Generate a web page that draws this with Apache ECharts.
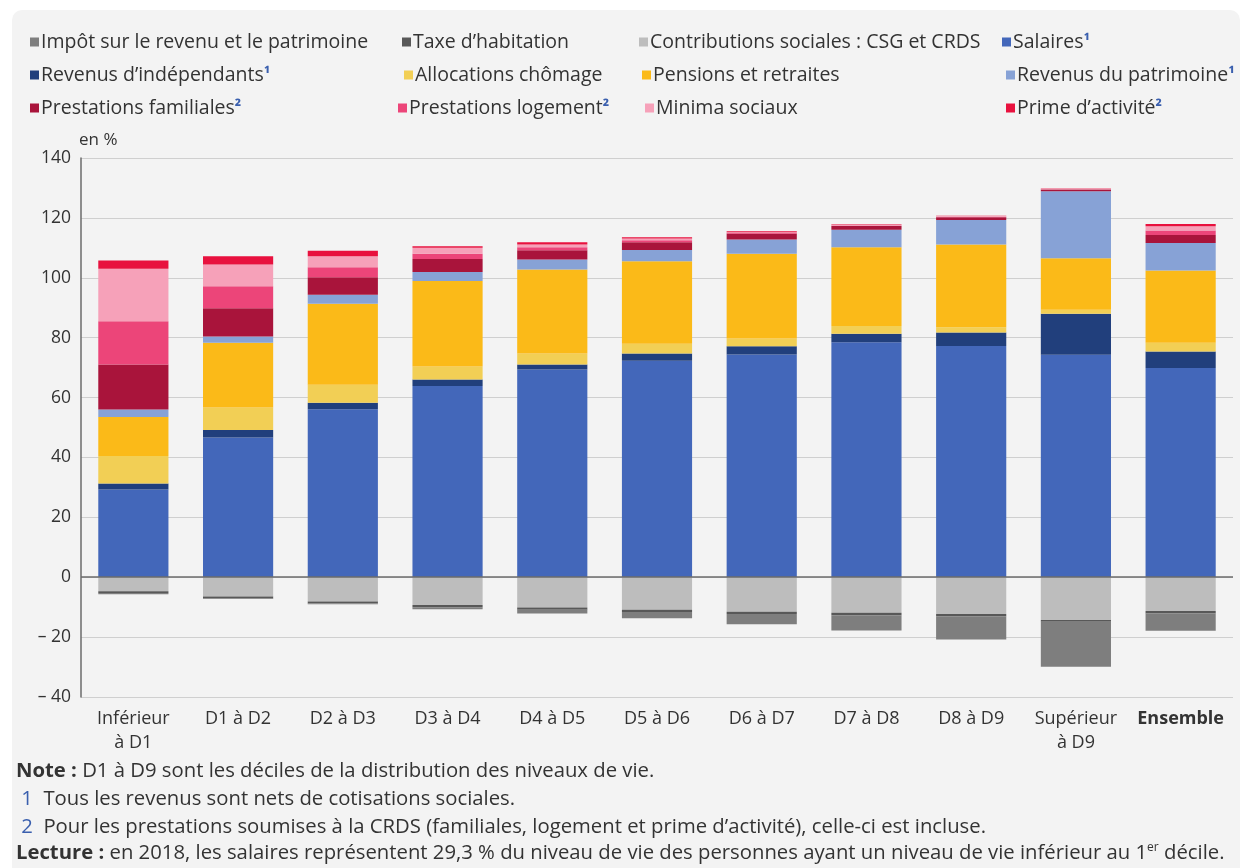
<!DOCTYPE html>
<html>
<head>
<meta charset="utf-8">
<script src="https://cdn.jsdelivr.net/npm/echarts@6/dist/echarts.min.js"></script>
<style>
html,body{margin:0;padding:0;background:#fff;}
#chart{width:1244px;height:868px;}
</style>
</head>
<body>
<div id="chart"></div>
<script>
// ---- Data ----
const categories = ['Inférieur\nà D1', 'D1 à D2', 'D2 à D3', 'D3 à D4', 'D4 à D5', 'D5 à D6', 'D6 à D7', 'D7 à D8', 'D8 à D9', 'Supérieur\nà D9', 'Ensemble'];
const yTicks = [-40, -20, 0, 20, 40, 60, 80, 100, 120, 140];

const salaires    = [29.3, 46.7, 56.1, 63.9, 69.4, 72.3, 74.4, 78.5, 77.2, 74.3, 69.9];
const independants= [2.0, 2.5, 2.2, 2.1, 1.6, 2.4, 2.7, 2.8, 4.5, 13.7, 5.5];
const chomage     = [9.2, 7.5, 6.0, 4.4, 3.7, 3.3, 2.6, 2.6, 1.8, 1.3, 2.9];
const pensions    = [13.0, 21.6, 27.0, 28.5, 28.1, 27.5, 28.3, 26.3, 27.6, 17.2, 24.1];
const patrimoine  = [2.5, 2.1, 3.0, 3.0, 3.3, 3.8, 4.8, 5.8, 8.2, 22.4, 9.2];
const familiales  = [15.0, 9.4, 5.9, 4.4, 3.1, 2.6, 1.9, 1.3, 0.9, 0.6, 2.7];
const logement    = [14.5, 7.4, 3.3, 1.7, 1.0, 0.6, 0.3, 0.2, 0.2, 0.1, 1.5];
const minima      = [17.5, 7.2, 3.7, 2.0, 0.9, 0.6, 0.2, 0.2, 0.2, 0.2, 1.4];
const prime       = [2.8, 2.8, 1.8, 0.5, 0.8, 0.4, 0.3, 0.2, 0.1, 0.1, 0.8];
const csg         = [-4.7, -6.4, -8.1, -9.3, -10.1, -10.9, -11.5, -11.9, -12.3, -14.3, -11.3];
const taxeHab     = [-0.6, -0.6, -0.6, -0.7, -0.8, -0.7, -0.8, -0.8, -0.7, -0.6, -0.8];
const impot       = [-0.4, -0.3, -0.3, -0.7, -1.2, -2.1, -3.4, -5.1, -7.8, -15.0, -5.8];

// series names (legend order) and footnote marks
const legendNames = [
  'Impôt sur le revenu et le patrimoine', 'Taxe d’habitation', 'Contributions sociales : CSG et CRDS', 'Salaires',
  'Revenus d’indépendants', 'Allocations chômage', 'Pensions et retraites', 'Revenus du patrimoine',
  'Prestations familiales', 'Prestations logement', 'Minima sociaux', 'Prime d’activité'
];
const legendMarks = ['', '', '', '¹', '¹', '', '', '¹', '²', '²', '', '²'];

// ---- Styles ----
const colors = {
  'Impôt sur le revenu et le patrimoine': '#7e7e7e',
  'Taxe d’habitation': '#585858',
  'Contributions sociales : CSG et CRDS': '#bdbdbd',
  'Salaires': '#4367ba',
  'Revenus d’indépendants': '#213f7c',
  'Allocations chômage': '#f2cf55',
  'Pensions et retraites': '#fbba18',
  'Revenus du patrimoine': '#87a2d6',
  'Prestations familiales': '#a9143b',
  'Prestations logement': '#ec4579',
  'Minima sociaux': '#f6a1b9',
  'Prime d’activité': '#e8113e'
};
const legendPos = [
  [30, 32], [402, 32], [639, 32], [1002, 32],
  [30, 65], [404, 65], [642, 65], [1006, 65],
  [30, 98], [398, 98], [645, 98], [1006, 98]
];

const stackOrder = [
  ['Salaires', salaires], ['Revenus d’indépendants', independants], ['Allocations chômage', chomage],
  ['Pensions et retraites', pensions], ['Revenus du patrimoine', patrimoine], ['Prestations familiales', familiales],
  ['Prestations logement', logement], ['Minima sociaux', minima], ['Prime d’activité', prime],
  ['Contributions sociales : CSG et CRDS', csg], ['Taxe d’habitation', taxeHab], ['Impôt sur le revenu et le patrimoine', impot]
];

const FONT = '"Open Sans", "Noto Sans", sans-serif';
const TXT = '#333333';
const NOTE_SIZE = 20.3;

const series = stackOrder.map(([name, data], i) => {
  const s = {
    name, type: 'bar', stack: 'total', data,
    barCategoryGap: '33%',
    itemStyle: { color: colors[name] },
    emphasis: { disabled: true },
    silent: true
  };
  if (i === 0) {
    s.markLine = {
      silent: true, symbol: 'none', animation: false,
      label: { show: false },
      lineStyle: { color: '#6b6b6b', width: 1.5, type: 'solid' },
      data: [{ yAxis: 0 }]
    };
  }
  return s;
});

const legends = legendNames.map((name, i) => ({
  data: [name],
  left: legendPos[i][0], top: legendPos[i][1],
  padding: 0, itemGap: 0, itemWidth: 9, itemHeight: 9, icon: 'rect',
  selectedMode: false,
  formatter: n => legendMarks[i] ? n + '{sup|' + legendMarks[i] + '}' : n,
  textStyle: {
    fontFamily: FONT, fontSize: 19.5, color: TXT, padding: [0, 0, 0, -3],
    rich: { sup: { fontFamily: FONT, fontSize: 17, color: '#3a5fae', fontWeight: 'bold' } }
  }
}));

function noteText(y, text, rich) {
  return {
    type: 'text', x: 16, y, silent: true,
    style: {
      text, font: NOTE_SIZE + 'px ' + FONT, fill: TXT, verticalAlign: 'middle',
      rich: Object.assign({
        b: { fontWeight: 'bold', fontSize: NOTE_SIZE, fontFamily: FONT, fill: TXT },
        n: { fontSize: NOTE_SIZE, fontFamily: FONT, fill: '#3a5fae' },
        s: { fontSize: 12, fontFamily: FONT, fill: TXT, padding: [0, 0, 10, 0] }
      }, rich || {})
    }
  };
}

const chart = echarts.init(document.getElementById('chart'), null, { renderer: 'canvas' });
chart.setOption({
  backgroundColor: '#ffffff',
  animation: false,
  textStyle: { fontFamily: FONT },
  graphic: [
    { type: 'rect', z: -10, silent: true, shape: { x: 12, y: 10, width: 1228, height: 880, r: 10 }, style: { fill: '#f3f3f3' } },
    noteText(771, '{b|Note :} D1 à D9 sont les déciles de la distribution des niveaux de vie.'),
    noteText(799, ' {n|1}  Tous les revenus sont nets de cotisations sociales.'),
    noteText(827, ' {n|2}  Pour les prestations soumises à la CRDS (familiales, logement et prime d’activité), celle-ci est incluse.'),
    noteText(853, '{b|Lecture :} en 2018, les salaires représentent 29,3 % du niveau de vie des personnes ayant un niveau de vie inférieur au 1{s|er} décile.')
  ],
  legend: legends,
  grid: { left: 81, right: 11, top: 158, bottom: 171, containLabel: false },
  xAxis: {
    type: 'category', data: categories,
    axisLine: { show: false }, axisTick: { show: false },
    axisLabel: {
      fontFamily: FONT, fontSize: 18, color: TXT, margin: 10, lineHeight: 24, interval: 0,
      formatter: v => v === 'Ensemble' ? '{b|' + v + '}' : v,
      rich: { b: { fontWeight: 'bold', fontSize: 18, fontFamily: FONT, color: TXT } }
    }
  },
  yAxis: {
    type: 'value', min: yTicks[0], max: yTicks[yTicks.length - 1], interval: 20,
    name: 'en %', nameLocation: 'end', nameGap: 9,
    nameTextStyle: { fontFamily: FONT, fontSize: 17, color: TXT, align: 'left', verticalAlign: 'bottom', padding: [0, 0, 0, -2] },
    axisLine: { show: true, lineStyle: { color: '#6b6b6b', width: 1.5 } },
    axisTick: { show: false },
    splitLine: { show: true, lineStyle: { color: '#cfcfcf', width: 1 } },
    axisLabel: {
      fontFamily: FONT, fontSize: 17.5, color: TXT, margin: 10,
      formatter: v => v < 0 ? '– ' + Math.abs(v) : String(v)
    }
  },
  series
});
</script>
</body>
</html>
